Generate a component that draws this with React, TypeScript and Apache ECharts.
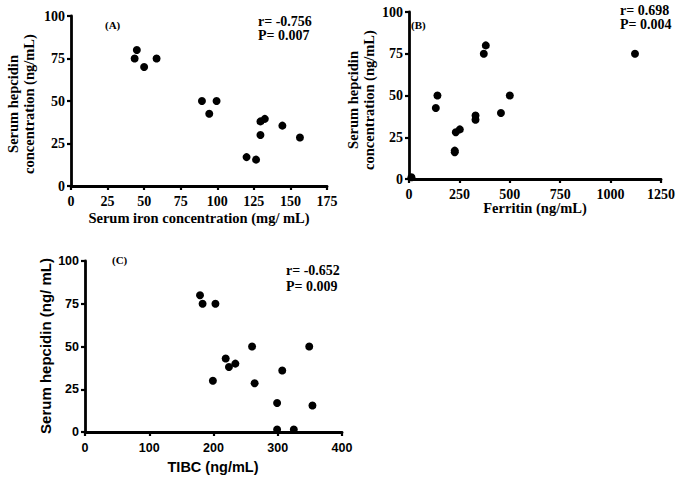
import React, { useEffect, useRef } from "react";
import * as echarts from "echarts";

const ironX = [43.5, 45, 50, 58.5, 89.5, 94.5, 99.5, 120, 126.5, 129.5, 129.5, 132.5, 144.5, 156.5];
const hepcidinA = [75, 80, 70, 75, 50, 42.5, 50, 17, 15.5, 30, 38, 39.5, 35.5, 28.5];

const ferritinX = [12, 133, 141, 227, 227, 232, 252, 330, 330, 371, 381, 456, 500, 1121];
const hepcidinB = [1, 42.5, 50, 16, 17, 28, 29.7, 38, 35.5, 75, 80, 39.5, 50, 75];

const tibcX = [179, 183, 203, 199, 219, 224, 234, 260, 264, 299, 299, 325, 307, 349, 354];
const hepcidinC = [80, 75, 75, 30, 43, 38, 40, 50, 28.5, 17, 1.5, 1.5, 36, 50, 15.5];

const statsA = ["r= -0.756", "P= 0.007"];
const statsB = ["r= 0.698", "P= 0.004"];
const statsC = ["r= -0.652", "P= 0.009"];

const SERIF = "Liberation Serif";
const SANS = "Liberation Sans";

function pairs(xs: number[], ys: number[]) {
  return xs.map((x, i) => [x, ys[i]]);
}

function axisBase(font: string, size: number, margin: number) {
  return {
    type: "value",
    splitLine: { show: false },
    axisLine: { show: true, onZero: false, lineStyle: { color: "#000", width: 2.8 } },
    axisTick: { show: true, inside: false, length: 4, lineStyle: { color: "#000", width: 2.2 } },
    axisLabel: {
      color: "#000",
      fontFamily: font,
      fontWeight: "bold",
      fontSize: size,
      margin,
      formatter: (v: number) => "{b|" + String(v) + "}",
      rich: {
        b: { fontFamily: font, fontWeight: "bold", fontSize: size, color: "#000" },
      },
    },
  };
}

export default function App() {
  const ref = useRef<HTMLDivElement>(null);
  useEffect(() => {
    if (!ref.current) return;
    const chart = echarts.init(ref.current, undefined, { renderer: "svg" });
    const txt = (x: number, y: number, text: string, font: string, size: number, extra: any = {}) => ({
      type: "text",
      x,
      y,
      style: {
        text,
        fontFamily: font,
        fontWeight: 700,
        fontSize: size,
        fill: "#000",
        textAlign: "left",
        textVerticalAlign: "middle",
        ...extra,
      },
    });
    const rot = (x: number, y: number, text: string, font: string, size: number) => ({
      type: "text",
      x,
      y,
      rotation: Math.PI / 2,
      style: {
        text,
        fontFamily: font,
        fontWeight: 700,
        fontSize: size,
        fill: "#000",
        textAlign: "center",
        textVerticalAlign: "middle",
        lineHeight: size + 1,
      },
    });
    const symbol = { symbol: "circle", symbolSize: 8, itemStyle: { color: "#000", opacity: 1 } };
    chart.setOption({
      animation: false,
      backgroundColor: "#fff",
      textStyle: { fontWeight: "bold", color: "#000" },
      grid: [
        { left: 71, top: 16, width: 256, height: 170 },
        { left: 409, top: 12, width: 252, height: 167 },
        { left: 85, top: 261, width: 257, height: 171 },
      ],
      xAxis: [
        { ...axisBase(SERIF, 14, 8), gridIndex: 0, min: 0, max: 175, interval: 25 },
        { ...axisBase(SERIF, 14, 8), gridIndex: 1, min: 0, max: 1250, interval: 250 },
        { ...axisBase(SANS, 12.5, 9), gridIndex: 2, min: 0, max: 400, interval: 100 },
      ],
      yAxis: [
        { ...axisBase(SERIF, 14, 6), gridIndex: 0, min: 0, max: 100, interval: 25 },
        { ...axisBase(SERIF, 14, 6), gridIndex: 1, min: 0, max: 100, interval: 25 },
        { ...axisBase(SANS, 12.5, 6), gridIndex: 2, min: 0, max: 100, interval: 25 },
      ],
      series: [
        { type: "scatter", xAxisIndex: 0, yAxisIndex: 0, data: pairs(ironX, hepcidinA), ...symbol },
        { type: "scatter", xAxisIndex: 1, yAxisIndex: 1, data: pairs(ferritinX, hepcidinB), ...symbol },
        { type: "scatter", xAxisIndex: 2, yAxisIndex: 2, data: pairs(tibcX, hepcidinC), ...symbol },
      ],
      graphic: [
        txt(105, 25, "(A)", SERIF, 11),
        txt(258, 21, statsA[0], SERIF, 14),
        txt(258, 35, statsA[1], SERIF, 14),
        txt(199, 218, "Serum iron concentration (mg/ mL)", SERIF, 14.5, { textAlign: "center" }),
        rot(21, 104, "Serum hepcidin\nconcentration (ng/mL)", SERIF, 14.5),

        txt(411, 25, "(B)", SERIF, 11),
        txt(620, 10, statsB[0], SERIF, 14),
        txt(620, 24, statsB[1], SERIF, 14),
        txt(535, 208, "Ferritin (ng/mL)", SERIF, 14.5, { textAlign: "center" }),
        rot(361, 100, "Serum hepcidin\nconcentration (ng/mL)", SERIF, 14.5),

        txt(112, 260, "(C)", SERIF, 11),
        txt(286, 270, statsC[0], SERIF, 14),
        txt(286, 286, statsC[1], SERIF, 14),
        txt(213, 467, "TIBC (ng/mL)", SANS, 14.5, { textAlign: "center" }),
        rot(45, 346, "Serum hepcidin (ng/ mL)", SANS, 15),
      ],
    });
    return () => chart.dispose();
  }, []);
  return (
    <div
      ref={ref}
      style={{ position: "fixed", left: 0, top: 0, width: 685, height: 480, background: "#fff" }}
    />
  );
}
